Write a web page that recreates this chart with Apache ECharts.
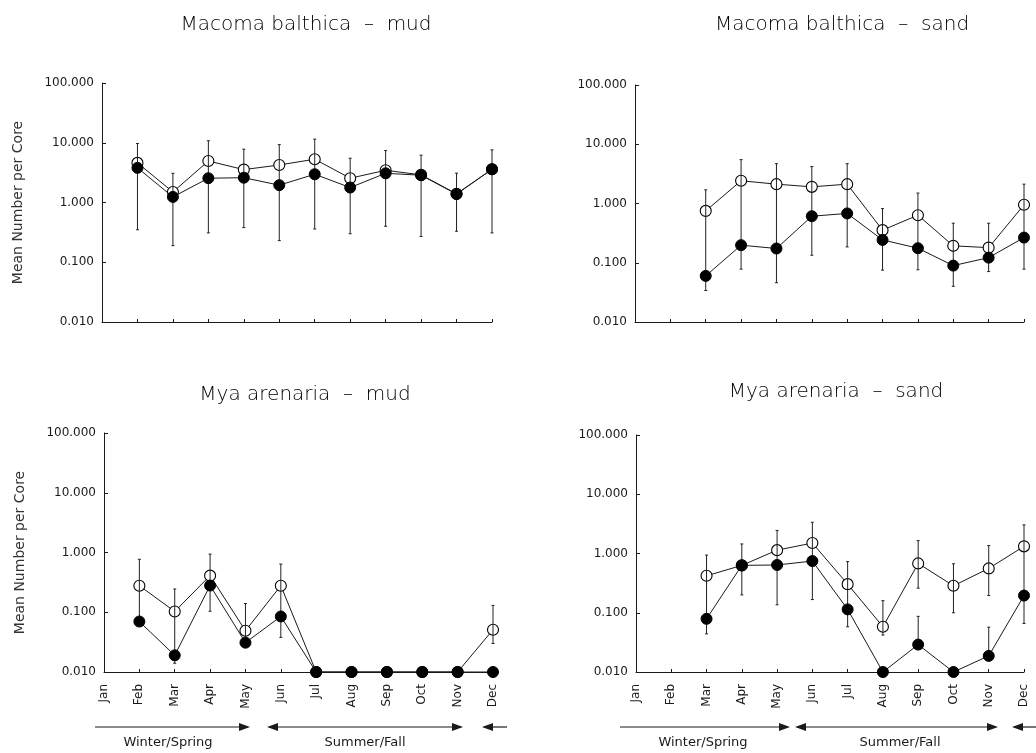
<!DOCTYPE html>
<html>
<head>
<meta charset="utf-8">
<script src="https://cdn.jsdelivr.net/npm/echarts@6/dist/echarts.min.js"></script>
<style>html,body{margin:0;padding:0;background:#fff;}#c{width:1036px;height:753px;}</style>
</head>
<body>
<div id="c"></div>
<script>
// ---------- data ----------
var months = ['Jan','Feb','Mar','Apr','May','Jun','Jul','Aug','Sep','Oct','Nov','Dec'];
var yTicks = [0.01, 0.1, 1, 10, 100];

// Macoma balthica - mud
var macMudOpen = [null, 4.6, 1.5, 4.95, 3.55, 4.25, 5.3, 2.55, 3.46, 2.9, 1.4, 3.6];
var macMudFill = [null, 3.8, 1.24, 2.55, 2.6, 1.95, 2.97, 1.78, 3.08, 2.86, 1.38, 3.6];
var macMudErrHigh = [null, 9.7, 3.08, 10.8, 7.8, 9.3, 11.5, 5.5, 7.4, 6.2, 3.1, 7.6];
var macMudErrLow  = [null, 0.35, 0.19, 0.31, 0.38, 0.23, 0.36, 0.3, 0.4, 0.27, 0.33, 0.31];

// Macoma balthica - sand
var macSandOpen = [null, null, 0.75, 2.42, 2.12, 1.91, 2.12, 0.355, 0.635, 0.193, 0.18, 0.95];
var macSandFill = [null, null, 0.06, 0.198, 0.174, 0.61, 0.68, 0.243, 0.176, 0.0895, 0.122, 0.266];
var macSandErrHigh = [null, null, 1.7, 5.5, 4.7, 4.2, 4.7, 0.82, 1.5, 0.465, 0.465, 2.12];
var macSandErrLow  = [null, null, 0.034, 0.078, 0.046, 0.134, 0.185, 0.075, 0.076, 0.04, 0.071, 0.078];

// Mya arenaria - mud
var myaMudOpen = [null, 0.278, 0.103, 0.41, 0.049, 0.278, 0.01, 0.01, 0.01, 0.01, 0.01, 0.051];
var myaMudFill = [null, 0.07, 0.019, 0.28, 0.031, 0.085, 0.01, 0.01, 0.01, 0.01, 0.01, 0.01];
var myaMudErrHigh = [null, 0.77, 0.245, 0.94, 0.14, 0.64, null, null, null, null, null, 0.13];
var myaMudErrLow  = [null, 0.06, 0.014, 0.104, 0.035, 0.038, null, null, null, null, null, 0.03];

// Mya arenaria - sand
var myaSandOpen = [null, null, 0.42, 0.63, 1.14, 1.5, 0.304, 0.058, 0.68, 0.285, 0.56, 1.32];
var myaSandFill = [null, null, 0.079, 0.63, 0.64, 0.745, 0.114, 0.01, 0.029, 0.01, 0.0187, 0.195];
var myaSandErrHigh = [null, null, 0.94, 1.45, 2.45, 3.37, 0.73, 0.16, 1.65, 0.67, 1.36, 3.04];
var myaSandErrLow  = [null, null, 0.044, 0.2, 0.136, 0.167, 0.058, 0.042, 0.26, 0.1, 0.195, 0.066];
var myaSandFillErrHigh = [null, null, null, null, null, null, null, null, 0.087, null, 0.057, null];
var myaSandFillErrLow  = [null, null, null, null, null, null, null, null, 0.029, null, 0.0187, null];

var titles = ['Macoma balthica  \u2013  mud', 'Macoma balthica  \u2013  sand', 'Mya arenaria  \u2013  mud', 'Mya arenaria  \u2013  sand'];
var seasonLabels = ['Winter/Spring', 'Summer/Fall'];

// ---------- chart ----------
var chart = echarts.init(document.getElementById('c'), null, {renderer: 'canvas'});
var FONT = 'DejaVu Sans';
var INK = '#1a1a1a';

var grids = [
  {left: 102, top: 83, width: 390, height: 239},
  {left: 635, top: 85, width: 389, height: 237},
  {left: 104, top: 433, width: 389, height: 239},
  {left: 636, top: 435, width: 388, height: 237}
];

function xAxisFor(i, showLabels) {
  return {
    type: 'category', gridIndex: i, data: months, boundaryGap: false,
    axisLine: {lineStyle: {color: INK, width: 1}},
    axisTick: {show: true, inside: true, length: 3, alignWithLabel: true, lineStyle: {color: INK}},
    axisLabel: {show: showLabels, rotate: 90, margin: 12, fontSize: 12, fontFamily: FONT, color: INK, interval: 0},
    splitLine: {show: false}
  };
}
function yAxisFor(i, showName) {
  return {
    type: 'log', logBase: 10, gridIndex: i, min: 0.01, max: 100,
    name: showName ? 'Mean Number per Core' : '',
    nameLocation: 'middle', nameGap: 77,
    nameTextStyle: {fontSize: 14, fontFamily: FONT, color: '#333'},
    axisLine: {show: true, lineStyle: {color: INK, width: 1}},
    axisTick: {show: true, inside: true, length: 4, lineStyle: {color: INK}},
    axisLabel: {fontSize: 12, fontFamily: FONT, color: INK, margin: 8,
      formatter: function (v) { return Number(v).toFixed(3); }},
    splitLine: {show: false}
  };
}

function lineSeries(i, data, filled) {
  return {
    type: 'line', xAxisIndex: i, yAxisIndex: i, data: data,
    symbol: 'circle', symbolSize: 11,
    showSymbol: true, connectNulls: false, z: filled ? 5 : 3,
    lineStyle: {color: INK, width: 1},
    itemStyle: filled ? {color: '#000', borderColor: '#000', borderWidth: 1}
                      : {color: '#fff', borderColor: '#000', borderWidth: 1.1},
    emphasis: {disabled: true}, animation: false
  };
}

function errSeries(i, low, high) {
  var d = [];
  for (var k = 0; k < months.length; k++) {
    if (low[k] != null && high[k] != null) d.push([k, low[k], high[k]]);
  }
  return {
    type: 'custom', xAxisIndex: i, yAxisIndex: i, data: d, z: 4,
    encode: {x: 0, y: [1, 2]},
    renderItem: function (params, api) {
      var x = api.value(0);
      var p1 = api.coord([x, api.value(1)]);
      var p2 = api.coord([x, api.value(2)]);
      var st = {stroke: '#222', lineWidth: 1};
      return {type: 'group', children: [
        {type: 'line', shape: {x1: p1[0], y1: p1[1], x2: p2[0], y2: p2[1]}, style: st},
        {type: 'line', shape: {x1: p1[0] - 1.5, y1: p1[1], x2: p1[0] + 1.5, y2: p1[1]}, style: st},
        {type: 'line', shape: {x1: p2[0] - 1.5, y1: p2[1], x2: p2[0] + 1.5, y2: p2[1]}, style: st}
      ]};
    },
    animation: false, silent: true
  };
}

var titleCenters = [[301, 10], [837, 10], [300, 380], [831, 377]];
var titleOpts = titles.map(function (t, i) {
  return {text: t, left: titleCenters[i][0], top: titleCenters[i][1], textAlign: 'center',
    textStyle: {fontSize: 20, fontWeight: 200, fontFamily: FONT, color: '#000'}};
});

// season arrows (annotation graphics)
function arrowHead(x, y, dir) {
  var L = 11, W = 4;
  return {type: 'polygon', shape: {points: [[x, y], [x - dir * L, y - W], [x - dir * L, y + W]]},
    style: {fill: INK}};
}
function hline(x1, x2, y) {
  return {type: 'line', shape: {x1: x1, y1: y, x2: x2, y2: y}, style: {stroke: INK, lineWidth: 1.2}};
}
function seasonText(txt, x, y) {
  return {type: 'text', x: x, y: y, style: {text: txt, fontSize: 13, fontFamily: FONT, fill: INK,
    textAlign: 'center', textVerticalAlign: 'middle'}};
}
var AY = 727, TY = 743;
var graphics = [
  hline(95, 248, AY), arrowHead(250, AY, 1),
  hline(269, 461, AY), arrowHead(267, AY, -1), arrowHead(463, AY, 1),
  hline(484, 507, AY), arrowHead(482, AY, -1),
  seasonText(seasonLabels[0], 168, TY), seasonText(seasonLabels[1], 365, TY),
  hline(620, 788, AY), arrowHead(790, AY, 1),
  hline(797, 996, AY), arrowHead(795, AY, -1), arrowHead(998, AY, 1),
  hline(1014, 1036, AY), arrowHead(1012, AY, -1),
  seasonText(seasonLabels[0], 703, TY), seasonText(seasonLabels[1], 900, TY)
];

var option = {
  backgroundColor: '#fff',
  animation: false,
  title: titleOpts,
  grid: grids,
  xAxis: [xAxisFor(0, false), xAxisFor(1, false), xAxisFor(2, true), xAxisFor(3, true)],
  yAxis: [yAxisFor(0, true), yAxisFor(1, false), yAxisFor(2, true), yAxisFor(3, false)],
  series: [
    lineSeries(0, macMudOpen, false), lineSeries(0, macMudFill, true), errSeries(0, macMudErrLow, macMudErrHigh),
    lineSeries(1, macSandOpen, false), lineSeries(1, macSandFill, true), errSeries(1, macSandErrLow, macSandErrHigh),
    lineSeries(2, myaMudOpen, false), lineSeries(2, myaMudFill, true), errSeries(2, myaMudErrLow, myaMudErrHigh),
    lineSeries(3, myaSandOpen, false), lineSeries(3, myaSandFill, true), errSeries(3, myaSandErrLow, myaSandErrHigh),
    errSeries(3, myaSandFillErrLow, myaSandFillErrHigh)
  ],
  graphic: graphics
};
chart.setOption(option);
</script>
</body>
</html>
